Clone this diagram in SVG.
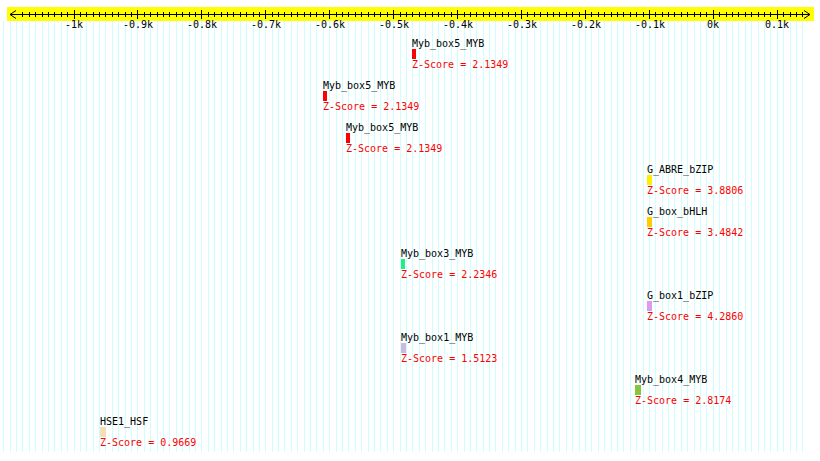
<svg xmlns="http://www.w3.org/2000/svg" width="820" height="461" viewBox="0 0 820 461">
<style>
text{font-family:"DejaVu Sans Mono","Liberation Mono",monospace;font-size:10px}
.lbl{fill:#000}
.z{fill:#ff0000}
.ax{fill:#000;text-anchor:middle}
.grid{stroke:#ccffff;stroke-width:1;fill:none}
.axis{stroke:#000;stroke-width:1;fill:none}
</style>
<rect width="820" height="461" fill="#fff"/>
<g id="grid">
<path class="grid" d="M3.5 21V452M10.5 21V452M16.5 21V452M22.5 21V452M29.5 21V452M35.5 21V452M42.5 21V452M48.5 21V452M54.5 21V452M61.5 21V452M67.5 21V452M74.5 21V452M80.5 21V452M86.5 21V452M93.5 21V452M99.5 21V452M105.5 21V452M112.5 21V452M118.5 21V452M125.5 21V452M131.5 21V452M137.5 21V452M144.5 21V452M150.5 21V452M157.5 21V452M163.5 21V452M169.5 21V452M176.5 21V452M182.5 21V452M189.5 21V452M195.5 21V452M201.5 21V452M208.5 21V452M214.5 21V452M221.5 21V452M227.5 21V452M233.5 21V452M240.5 21V452M246.5 21V452M253.5 21V452M259.5 21V452M265.5 21V452M272.5 21V452M278.5 21V452M284.5 21V452M291.5 21V452M297.5 21V452M304.5 21V452M310.5 21V452M316.5 21V452M323.5 21V452M329.5 21V452M336.5 21V452M342.5 21V452M348.5 21V452M355.5 21V452M361.5 21V452M368.5 21V452M374.5 21V452M380.5 21V452M387.5 21V452M393.5 21V452M400.5 21V452M406.5 21V452M412.5 21V452M419.5 21V452M425.5 21V452M432.5 21V452M438.5 21V452M444.5 21V452M451.5 21V452M457.5 21V452M464.5 21V452M470.5 21V452M476.5 21V452M483.5 21V452M489.5 21V452M495.5 21V452M502.5 21V452M508.5 21V452M515.5 21V452M521.5 21V452M527.5 21V452M534.5 21V452M540.5 21V452M547.5 21V452M553.5 21V452M559.5 21V452M566.5 21V452M572.5 21V452M579.5 21V452M585.5 21V452M591.5 21V452M598.5 21V452M604.5 21V452M611.5 21V452M617.5 21V452M623.5 21V452M630.5 21V452M636.5 21V452M643.5 21V452M649.5 21V452M655.5 21V452M662.5 21V452M668.5 21V452M674.5 21V452M681.5 21V452M687.5 21V452M694.5 21V452M700.5 21V452M706.5 21V452M713.5 21V452M719.5 21V452M726.5 21V452M732.5 21V452M738.5 21V452M745.5 21V452M751.5 21V452M758.5 21V452M764.5 21V452M770.5 21V452M777.5 21V452M783.5 21V452M790.5 21V452M796.5 21V452M802.5 21V452"/>
</g>
<g id="axis">
<rect x="7" y="7" width="807" height="14" fill="#ffff00"/>
<path class="axis" d="M10 14.5H810M10 14.5L16 10.5M10 14.5L16 18.5M810 14.5L804 10.5M810 14.5L804 18.5"/>
<path class="axis" d="M22.5 12V17M29.5 12V17M35.5 12V17M42.5 12V17M48.5 12V17M54.5 12V17M61.5 12V17M67.5 12V17M80.5 12V17M86.5 12V17M93.5 12V17M99.5 12V17M105.5 12V17M112.5 12V17M118.5 12V17M125.5 12V17M131.5 12V17M144.5 12V17M150.5 12V17M157.5 12V17M163.5 12V17M169.5 12V17M176.5 12V17M182.5 12V17M189.5 12V17M195.5 12V17M208.5 12V17M214.5 12V17M221.5 12V17M227.5 12V17M233.5 12V17M240.5 12V17M246.5 12V17M253.5 12V17M259.5 12V17M272.5 12V17M278.5 12V17M284.5 12V17M291.5 12V17M297.5 12V17M304.5 12V17M310.5 12V17M316.5 12V17M323.5 12V17M336.5 12V17M342.5 12V17M348.5 12V17M355.5 12V17M361.5 12V17M368.5 12V17M374.5 12V17M380.5 12V17M387.5 12V17M400.5 12V17M406.5 12V17M412.5 12V17M419.5 12V17M425.5 12V17M432.5 12V17M438.5 12V17M444.5 12V17M451.5 12V17M464.5 12V17M470.5 12V17M476.5 12V17M483.5 12V17M489.5 12V17M495.5 12V17M502.5 12V17M508.5 12V17M515.5 12V17M527.5 12V17M534.5 12V17M540.5 12V17M547.5 12V17M553.5 12V17M559.5 12V17M566.5 12V17M572.5 12V17M579.5 12V17M591.5 12V17M598.5 12V17M604.5 12V17M611.5 12V17M617.5 12V17M623.5 12V17M630.5 12V17M636.5 12V17M643.5 12V17M655.5 12V17M662.5 12V17M668.5 12V17M674.5 12V17M681.5 12V17M687.5 12V17M694.5 12V17M700.5 12V17M706.5 12V17M719.5 12V17M726.5 12V17M732.5 12V17M738.5 12V17M745.5 12V17M751.5 12V17M758.5 12V17M764.5 12V17M770.5 12V17M783.5 12V17M790.5 12V17M796.5 12V17M802.5 12V17"/>
<path class="axis" d="M74.5 10V19M137.5 10V19M201.5 10V19M265.5 10V19M329.5 10V19M393.5 10V19M457.5 10V19M521.5 10V19M585.5 10V19M649.5 10V19M713.5 10V19M777.5 10V19"/>
<text class="ax" x="74" y="28">-1k</text>
<text class="ax" x="138" y="28">-0.9k</text>
<text class="ax" x="202" y="28">-0.8k</text>
<text class="ax" x="266" y="28">-0.7k</text>
<text class="ax" x="330" y="28">-0.6k</text>
<text class="ax" x="394" y="28">-0.5k</text>
<text class="ax" x="458" y="28">-0.4k</text>
<text class="ax" x="522" y="28">-0.3k</text>
<text class="ax" x="586" y="28">-0.2k</text>
<text class="ax" x="650" y="28">-0.1k</text>
<text class="ax" x="713" y="28">0k</text>
<text class="ax" x="777" y="28">0.1k</text>
</g>
<g id="connectors"/>
<g id="f1"><text class="lbl" x="412" y="47">Myb_box5_MYB</text><rect x="412" y="49" width="4" height="10" fill="#ff0000"/><text class="z" x="412" y="67.5">Z-Score = 2.1349</text></g>
<g id="f2"><text class="lbl" x="323" y="89">Myb_box5_MYB</text><rect x="323" y="91" width="4" height="10" fill="#ff0000"/><text class="z" x="323" y="109.5">Z-Score = 2.1349</text></g>
<g id="f3"><text class="lbl" x="346" y="131">Myb_box5_MYB</text><rect x="346" y="133" width="4" height="10" fill="#ff0000"/><text class="z" x="346" y="151.5">Z-Score = 2.1349</text></g>
<g id="f4"><text class="lbl" x="647" y="173">G_ABRE_bZIP</text><rect x="647" y="175" width="5" height="10" fill="#ffee00"/><text class="z" x="647" y="193.5">Z-Score = 3.8806</text></g>
<g id="f5"><text class="lbl" x="647" y="215">G_box_bHLH</text><rect x="647" y="217" width="5" height="10" fill="#ffcc00"/><text class="z" x="647" y="235.5">Z-Score = 3.4842</text></g>
<g id="f6"><text class="lbl" x="401" y="257">Myb_box3_MYB</text><rect x="401" y="259" width="4" height="10" fill="#22ee88"/><text class="z" x="401" y="277.5">Z-Score = 2.2346</text></g>
<g id="f7"><text class="lbl" x="647" y="299">G_box1_bZIP</text><rect x="647" y="301" width="5" height="10" fill="#dd99ee"/><text class="z" x="647" y="319.5">Z-Score = 4.2860</text></g>
<g id="f8"><text class="lbl" x="401" y="341">Myb_box1_MYB</text><rect x="401" y="343" width="5" height="10" fill="#ccbbdd"/><text class="z" x="401" y="361.5">Z-Score = 1.5123</text></g>
<g id="f9"><text class="lbl" x="635" y="383">Myb_box4_MYB</text><rect x="635" y="385" width="6" height="10" fill="#88c440"/><text class="z" x="635" y="403.5">Z-Score = 2.8174</text></g>
<g id="f10"><text class="lbl" x="100" y="425">HSE1_HSF</text><rect x="100" y="427" width="6" height="10" fill="#f5deb3"/><text class="z" x="100" y="445.5">Z-Score = 0.9669</text></g>
</svg>
